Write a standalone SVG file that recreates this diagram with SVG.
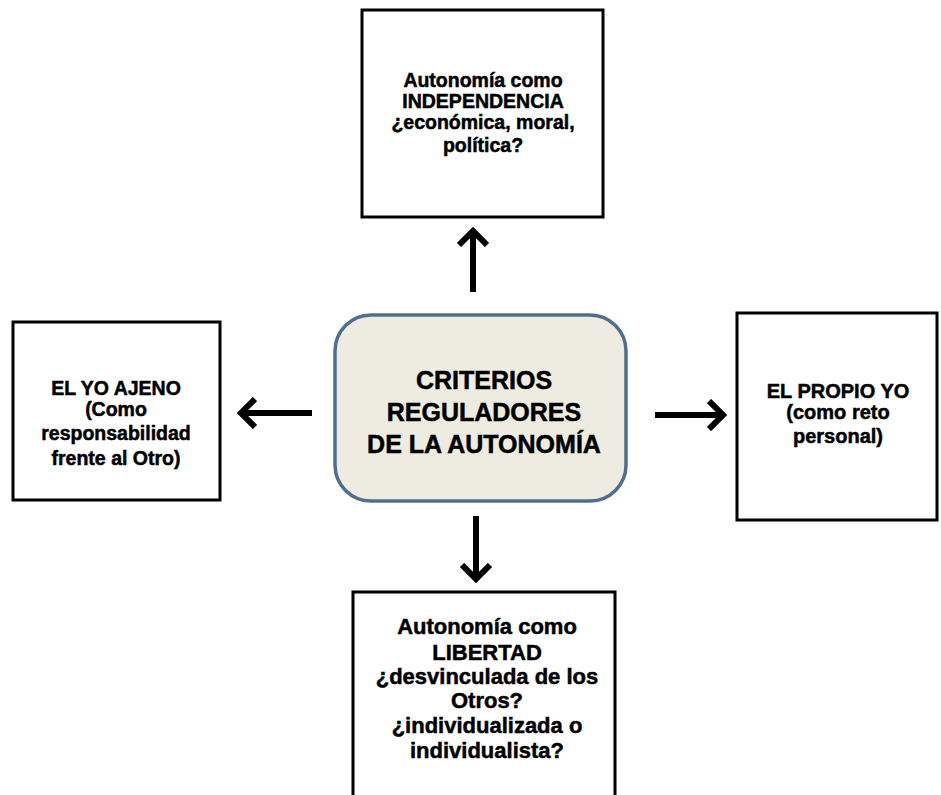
<svg xmlns="http://www.w3.org/2000/svg" width="941" height="795" viewBox="0 0 941 795">
<style>
.box{fill:#fff;stroke:#000;stroke-width:3}
.center{fill:#eeece1;stroke:#4f6f91;stroke-width:3.5}
text{font-family:"Liberation Sans",Arial,sans-serif;font-weight:bold;fill:#000;stroke:#000;stroke-width:0.5;text-anchor:middle}
.conn{stroke:#000;stroke-width:6;fill:none;marker-end:url(#arr)}
</style>
<defs>
<marker id="arr" viewBox="0 0 20 32" refX="15" refY="16" markerWidth="20" markerHeight="32" markerUnits="userSpaceOnUse" orient="auto">
<path d="M2,2 L16,16 L2,30" fill="none" stroke="#000" stroke-width="6"/>
</marker>
</defs>
<rect width="941" height="795" fill="#fff"/>
<g id="connectors">
<line class="conn" x1="473" y1="292" x2="473" y2="232"/>
<line class="conn" x1="312" y1="413" x2="242" y2="413"/>
<line class="conn" x1="655" y1="415" x2="722" y2="415"/>
<line class="conn" x1="476" y1="516" x2="476" y2="578"/>
</g>
<g id="center">
<rect class="center" x="335" y="315" width="291" height="186" rx="36"/>
<text font-size="25"><tspan x="484" y="389">CRITERIOS</tspan><tspan x="484" y="421">REGULADORES</tspan><tspan x="484" y="453">DE LA AUTONOMÍA</tspan></text>
</g>
<g id="top">
<rect class="box" x="362" y="10" width="241" height="207"/>
<text font-size="19.5"><tspan x="483" y="87">Autonomía como</tspan><tspan x="483" y="108">INDEPENDENCIA</tspan><tspan x="483" y="129">¿económica, moral,</tspan><tspan x="483" y="152">política?</tspan></text>
</g>
<g id="left">
<rect class="box" x="13" y="322" width="207" height="178"/>
<text font-size="19.5"><tspan x="116" y="395">EL YO AJENO</tspan><tspan x="116" y="416">(Como</tspan><tspan x="116" y="440">responsabilidad</tspan><tspan x="116" y="465">frente al Otro)</tspan></text>
</g>
<g id="right">
<rect class="box" x="737" y="313" width="200" height="207"/>
<text font-size="20"><tspan x="838" y="398">EL PROPIO YO</tspan><tspan x="838" y="419">(como reto</tspan><tspan x="838" y="443">personal)</tspan></text>
</g>
<g id="bottom">
<rect class="box" x="353" y="592" width="262" height="215"/>
<text font-size="22"><tspan x="487" y="634">Autonomía como</tspan><tspan x="487" y="660">LIBERTAD</tspan><tspan x="487" y="684">¿desvinculada de los</tspan><tspan x="487" y="708">Otros?</tspan><tspan x="487" y="733">¿individualizada o</tspan><tspan x="487" y="758">individualista?</tspan></text>
</g>
</svg>
